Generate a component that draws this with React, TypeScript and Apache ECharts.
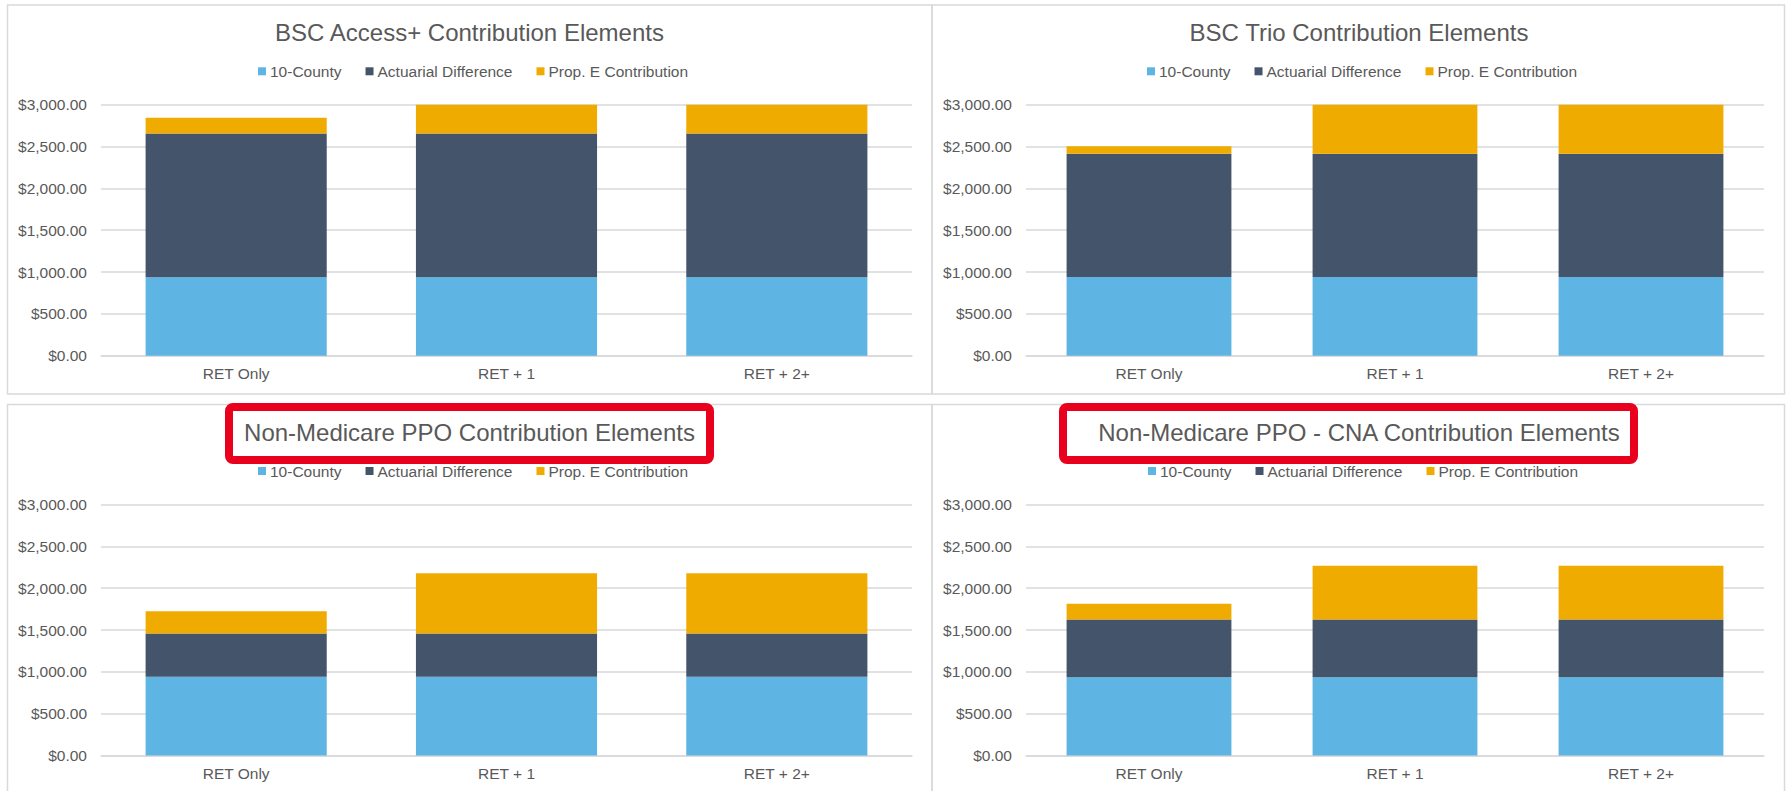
import React, { useEffect, useRef } from 'react';
import * as echarts from 'echarts';

const categories = ['RET Only', 'RET + 1', 'RET + 2+'];
const seriesNames = ['10-County', 'Actuarial Difference', 'Prop. E Contribution'];
const seriesColors = ['#5eb4e3', '#44546a', '#f0ab00'];

const chartTitles = [
  'BSC Access+ Contribution Elements',
  'BSC Trio Contribution Elements',
  'Non-Medicare PPO Contribution Elements',
  'Non-Medicare PPO - CNA Contribution Elements',
];

// BSC Access+
const accessCounty = [938, 938, 938];
const accessActuarial = [1717, 1717, 1717];
const accessPropE = [190, 347, 347];
// BSC Trio
const trioCounty = [940, 940, 940];
const trioActuarial = [1475, 1475, 1475];
const trioPropE = [88, 585, 585];
// Non-Medicare PPO
const ppoCounty = [940, 940, 940];
const ppoActuarial = [518, 518, 518];
const ppoPropE = [267, 721, 721];
// Non-Medicare PPO - CNA
const cnaCounty = [936, 936, 936];
const cnaActuarial = [690, 690, 690];
const cnaPropE = [188, 643, 643];

const panelValues = [
  [accessCounty, accessActuarial, accessPropE],
  [trioCounty, trioActuarial, trioPropE],
  [ppoCounty, ppoActuarial, ppoPropE],
  [cnaCounty, cnaActuarial, cnaPropE],
];

const yMin = 0;
const yMax = 3000;
const yStep = 500;

const FONT = '"Liberation Sans", Arial, sans-serif';
const GRAY = '#595959';

const layout = [
  { gx: 101, gw: 811, gy: 104.7, cx: 469.5, ty: 32.3, lx: 258, ly: 72.3 },
  { gx: 1026, gw: 738, gy: 104.7, cx: 1359, ty: 32.3, lx: 1147, ly: 72.3 },
  { gx: 101, gw: 811, gy: 504.5, cx: 469.5, ty: 432, lx: 258, ly: 472 },
  { gx: 1026, gw: 738, gy: 504.5, cx: 1359, ty: 432, lx: 1148, ly: 472 },
];

const fmt = (v: number) =>
  '$' + v.toLocaleString('en-US', { minimumFractionDigits: 2, maximumFractionDigits: 2 });

export default function App() {
  const ref = useRef<HTMLDivElement>(null);
  useEffect(() => {
    if (!ref.current) return;
    const chart = echarts.init(ref.current, null, { renderer: 'svg' });
    const grids: any[] = [];
    const xAxes: any[] = [];
    const yAxes: any[] = [];
    const legends: any[] = [];
    const series: any[] = [];
    const graphics: any[] = [];

    // panel borders
    const panelRects = [
      [7.5, 5, 924.5, 389],
      [932, 5, 852.5, 389],
      [7.5, 404.5, 924.5, 392],
      [932, 404.5, 852.5, 392],
    ];
    panelRects.forEach(([x, y, w, h]) => {
      graphics.push({
        type: 'rect',
        shape: { x, y, width: w, height: h },
        style: { fill: 'none', stroke: '#d9d9d9', lineWidth: 1.5 },
        silent: true,
        z: 0,
      });
    });

    layout.forEach((L, i) => {
      grids.push({ left: L.gx, top: L.gy, width: L.gw, height: 251, containLabel: false });
      xAxes.push({
        type: 'category',
        gridIndex: i,
        data: categories,
        axisLine: { lineStyle: { color: '#d9d9d9', width: 1.5 } },
        axisTick: { show: false },
        axisLabel: { color: GRAY, fontSize: 15.5, fontFamily: FONT, margin: 10 },
      });
      yAxes.push({
        type: 'value',
        gridIndex: i,
        min: yMin,
        max: yMax,
        interval: yStep,
        axisLine: { show: false },
        axisTick: { show: false },
        splitLine: { lineStyle: { color: '#d9d9d9', width: 1.5 } },
        axisLabel: { color: GRAY, fontSize: 15.5, fontFamily: FONT, margin: 14, formatter: fmt },
      });
      legends.push({
        data: seriesNames,
        left: L.lx,
        top: L.ly - 9,
        padding: 0,
        itemWidth: 8,
        itemHeight: 8,
        itemGap: 24,
        icon: 'rect',
        textStyle: { color: GRAY, fontSize: 15.5, fontFamily: FONT, padding: [0, 0, 0, -1] },
      });
      graphics.push({
        type: 'text',
        x: L.cx,
        y: L.ty,
        z: 10,
        style: {
          text: chartTitles[i],
          align: 'center',
          verticalAlign: 'middle',
          fontSize: 24,
          fontFamily: FONT,
          fill: GRAY,
        },
      });
      seriesNames.forEach((name, s) => {
        series.push({
          type: 'bar',
          name,
          stack: 'stack' + i,
          xAxisIndex: i,
          yAxisIndex: i,
          data: panelValues[i][s],
          barCategoryGap: '33%',
          itemStyle: { color: seriesColors[s] },
          emphasis: { disabled: true },
        });
      });
    });

    // red highlight boxes around the bottom titles
    graphics.push({
      type: 'rect',
      shape: { x: 229, y: 407, width: 481, height: 53, r: 4 },
      style: { fill: 'none', stroke: '#e8001c', lineWidth: 8 },
      z: 20,
    });
    graphics.push({
      type: 'rect',
      shape: { x: 1063, y: 407, width: 571, height: 53, r: 4 },
      style: { fill: 'none', stroke: '#e8001c', lineWidth: 8 },
      z: 20,
    });

    chart.setOption({
      animation: false,
      backgroundColor: '#ffffff',
      textStyle: { fontFamily: FONT },
      grid: grids,
      xAxis: xAxes,
      yAxis: yAxes,
      legend: legends,
      series,
      graphic: graphics,
    });
    return () => chart.dispose();
  }, []);
  return (
    <div
      ref={ref}
      style={{ position: 'absolute', left: 0, top: 0, width: 1791, height: 791, background: '#fff' }}
    />
  );
}
